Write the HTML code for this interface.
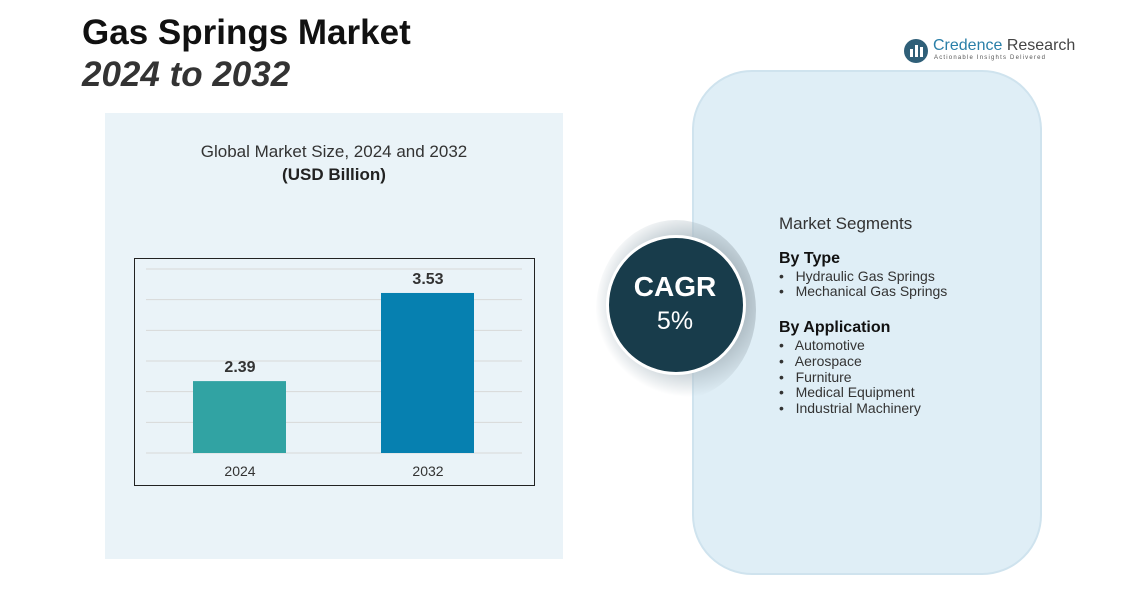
<!DOCTYPE html>
<html><head><meta charset="utf-8"><style>
body{margin:0;width:1138px;height:598px;background:#fff;font-family:"Liberation Sans",sans-serif;position:relative;overflow:hidden}
.abs{position:absolute}
</style></head><body>
<div class="abs" style="left:82px;top:13px;font-size:35px;font-weight:bold;color:#111">Gas Springs Market</div>
<div class="abs" style="left:82px;top:55px;font-size:35px;font-weight:bold;font-style:italic;color:#333">2024 to 2032</div>
<div class="abs" style="left:903px;top:37px;width:175px;height:30px">
 <svg width="28" height="28" class="abs" style="left:0;top:0"><circle cx="13" cy="14" r="12" fill="#2f5f78"/><rect x="7" y="12" width="3" height="8" fill="#fff"/><rect x="12" y="8" width="3" height="12" fill="#fff"/><rect x="17" y="10" width="3" height="10" fill="#fff"/></svg>
 <div class="abs" style="left:30px;top:0;font-size:16px;color:#2a7fa8;white-space:nowrap">Credence <span style="color:#444">Research</span></div>
 <div class="abs" style="left:31px;top:18px;font-size:6px;letter-spacing:1.2px;color:#555;white-space:nowrap">Actionable Insights Delivered</div>
</div>
<div class="abs" style="left:105px;top:113px;width:458px;height:446px;background:#eaf3f8"></div>
<div class="abs" style="left:105px;top:142px;width:458px;text-align:center;font-size:17px;color:#333">Global Market Size, 2024 and 2032</div>
<div class="abs" style="left:105px;top:165px;width:458px;text-align:center;font-size:17px;font-weight:bold;color:#222">(USD Billion)</div>
<svg class="abs" id="chart" style="left:0;top:0" width="1138" height="598"></svg>
<div class="abs" style="left:692px;top:70px;width:350px;height:505px;border:2px solid #cfe3ee;border-radius:60px;background:#dfeef6;box-sizing:border-box"></div>
<div class="abs" style="left:596px;top:220px;width:160px;height:180px;border-radius:50%;background:radial-gradient(circle at 58% 46%,#7f939e 0%,#aebcc4 42%,rgba(255,255,255,0) 70%)"></div>
<div class="abs" style="left:606px;top:235px;width:140px;height:140px;border-radius:50%;background:#183c4b;border:3px solid #fff;box-sizing:border-box"></div>
<div class="abs" style="left:606px;top:271px;width:138px;text-align:center;font-size:28px;font-weight:bold;color:#fff">CAGR</div>
<div class="abs" style="left:606px;top:307px;width:138px;text-align:center;font-size:25px;color:#fff">5%</div>
<div class="abs" style="left:779px;top:216px;font-size:14px;color:#333;line-height:15.8px">
 <div style="font-size:17px;margin-bottom:19px">Market Segments</div>
 <div style="font-size:16px;font-weight:bold;color:#111;margin-bottom:2px">By Type</div>
 <div>•&nbsp;&nbsp; Hydraulic Gas Springs</div>
 <div>•&nbsp;&nbsp; Mechanical Gas Springs</div>
 <div style="font-size:16px;font-weight:bold;color:#111;margin:20px 0 2px">By Application</div>
 <div>•&nbsp;&nbsp; Automotive</div>
 <div>•&nbsp;&nbsp; Aerospace</div>
 <div>•&nbsp;&nbsp; Furniture</div>
 <div>•&nbsp;&nbsp; Medical Equipment</div>
 <div>•&nbsp;&nbsp; Industrial Machinery</div>
</div>
<script>
const categories=["2024","2032"];
const values=[2.39,3.53];
const valueLabels=["2.39","3.53"];
const colors=["#31a3a3","#0680b0"];
const yMin=1.46,yMax=3.84;
const svg=document.getElementById('chart');
const NS='http://www.w3.org/2000/svg';
const top0=269,base=453,left=146,right=522;
function y(v){return base-(v-yMin)/(yMax-yMin)*(base-top0);}
function xc(i){return 240+i*188;}
function mk(t,a){const e=document.createElementNS(NS,t);for(const k in a)e.setAttribute(k,a[k]);svg.appendChild(e);return e;}
const frame=mk('rect',{x:134.5,y:258.5,width:400,height:227,fill:'none',stroke:'#222'});


for(let k=0;k<=6;k++){const gy=top0+k*(base-top0)/6;
 const g=mk('line',{x1:left,x2:right,y1:gy,y2:gy,stroke:'#d8d8d8'});
 
 }
categories.forEach((c,i)=>{
 const ty=y(values[i]);
 const b=mk('rect',{x:xc(i)-47,y:ty,width:93,height:base-ty,fill:colors[i]});
 
 
 const t=mk('text',{x:xc(i),y:ty-9,'text-anchor':'middle','font-size':16,'font-weight':'bold',fill:'#333','font-family':'Liberation Sans'});
 t.textContent=valueLabels[i];
 
 
 const l=mk('text',{x:xc(i),y:476,'text-anchor':'middle','font-size':14,fill:'#333','font-family':'Liberation Sans'});
 l.textContent=c;
 
 
});
</script>
</body></html>
